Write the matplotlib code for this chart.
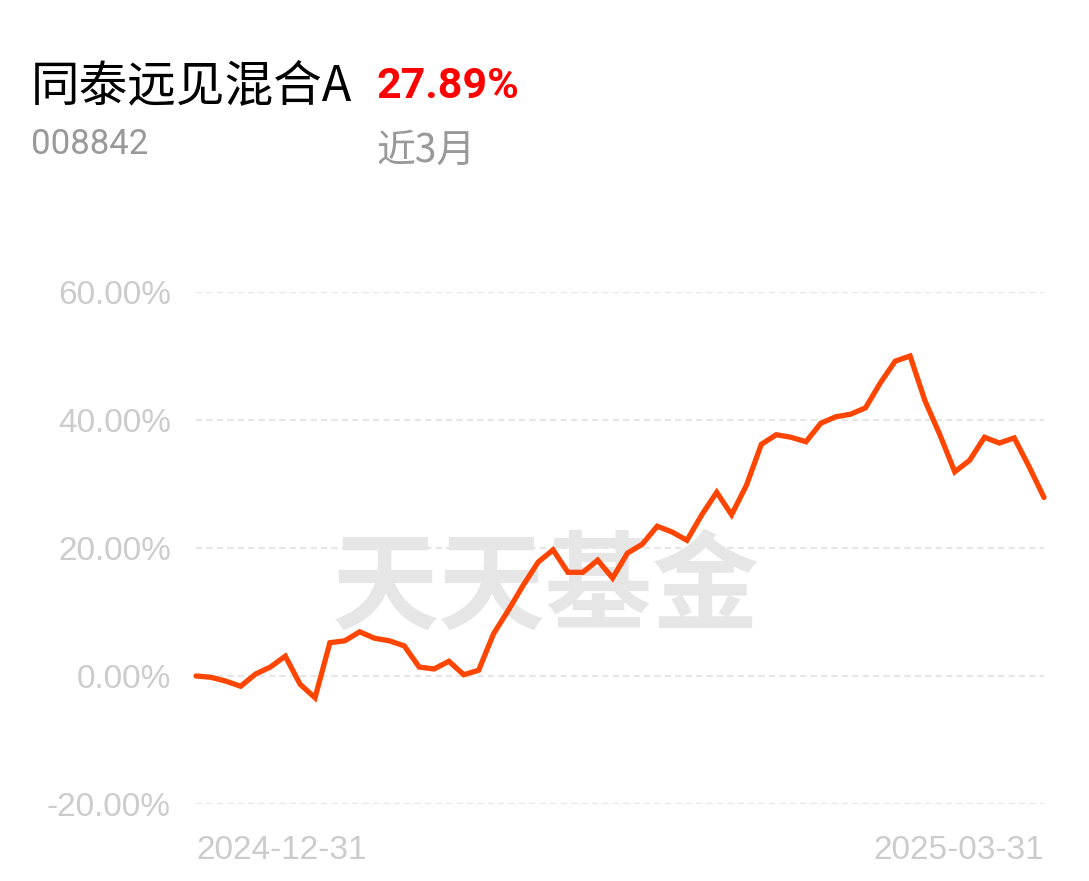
"""基金收益走势图（近3月）。"""
import matplotlib
import matplotlib.pyplot as plt

matplotlib.use("Agg")

plt.rcParams["font.family"] = ["Noto Sans CJK SC", "DejaVu Sans"]
plt.rcParams["lines.scale_dashes"] = False

DPI = 100
WIDTH_PX, HEIGHT_PX = 1089, 881

FUND_NAME = "同泰远见混合A"
FUND_CODE = "008842"
PERIOD_RETURN = "27.89%"
PERIOD_LABEL = "近3月"
START_DATE = "2024-12-31"
END_DATE = "2025-03-31"

# 累计收益率（%），每个交易日一个点
returns = [
    0.0, -0.2, -0.8, -1.6, 0.3, 1.4, 3.1, -1.3, -3.4, 5.2,
    5.5, 6.9, 5.9, 5.5, 4.7, 1.4, 1.1, 2.3, 0.2, 0.9,
    6.6, 10.3, 14.2, 17.8, 19.7, 16.2, 16.2, 18.1, 15.3, 19.2,
    20.6, 23.4, 22.5, 21.2, 25.2, 28.7, 25.2, 29.8, 36.2, 37.7,
    37.3, 36.6, 39.5, 40.5, 40.9, 41.9, 45.8, 49.2, 50.0, 43.0,
    37.7, 31.9, 33.7, 37.3, 36.4, 37.2, 32.7, 27.89,
]
y_ticks = [-20, 0, 20, 40, 60]

LATIN = ["Liberation Sans", "DejaVu Sans"]
NUM = ["Roboto", "DejaVu Sans"]

fig = plt.figure(figsize=(WIDTH_PX / DPI, HEIGHT_PX / DPI), dpi=DPI)
ax = fig.add_axes([196 / WIDTH_PX, 77 / HEIGHT_PX, 848 / WIDTH_PX, 512 / HEIGHT_PX])

x = list(range(len(returns)))
ax.set_xlim(0, len(returns) - 1)
ax.set_ylim(-20, 60)

# 网格线
for t in y_ticks:
    ax.axhline(t, color="#e6e6e6", lw=1.6, linestyle=(0, (4.5, 3.0)), zorder=1)

# 水印
ax.text(0.412, 0.418, "天天基金", transform=ax.transAxes, ha="center", va="center",
        fontsize=77, fontweight="black", color="#e6e6e6", zorder=0)

ax.plot(x, returns, color="#ff4500", lw=3.8, solid_joinstyle="miter",
        solid_capstyle="round", zorder=3, clip_on=False)

for sp in ax.spines.values():
    sp.set_visible(False)
ax.set_xticks([])
ax.set_yticks(y_ticks)
ax.set_yticklabels([f"{t:.2f}%" for t in y_ticks], fontsize=24, color="#cccccc", family=LATIN)
ax.tick_params(axis="y", length=0, pad=18)

ax.text(0, -0.09, START_DATE, transform=ax.transAxes, ha="left", va="center",
        fontsize=24, color="#cccccc", family=LATIN)
ax.text(1, -0.09, END_DATE, transform=ax.transAxes, ha="right", va="center",
        fontsize=24, color="#cccccc", family=LATIN)

# 标题区
fig.text(31 / WIDTH_PX, 1 - 86 / HEIGHT_PX, FUND_NAME, ha="left", va="center",
         fontsize=35, color="black")
fig.text(31 / WIDTH_PX, 1 - 144 / HEIGHT_PX, FUND_CODE, ha="left", va="center",
         fontsize=25, color="#999999", family=NUM)
fig.text(377 / WIDTH_PX, 1 - 87 / HEIGHT_PX, PERIOD_RETURN, ha="left", va="center",
         fontsize=31, color="#ff0000", fontweight="bold", family=NUM)
fig.text(376 / WIDTH_PX, 1 - 151 / HEIGHT_PX, PERIOD_LABEL, ha="left", va="center",
         fontsize=28, color="#999999")

fig.savefig("out.png", dpi=DPI)
plt.close(fig)
